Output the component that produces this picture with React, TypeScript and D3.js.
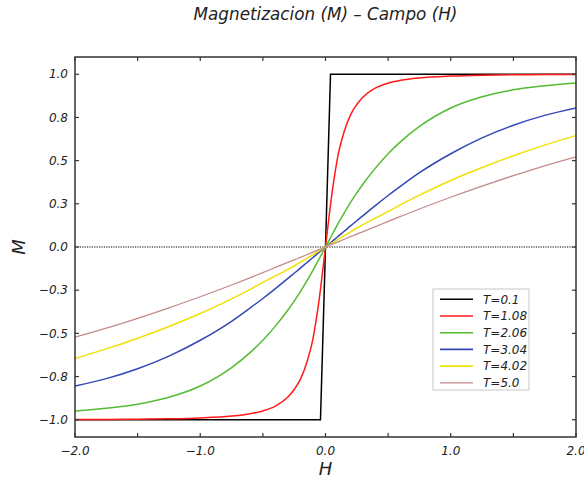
import React from "react";
import * as d3 from "d3";

const W = 584;
const H = 479;

const titleText = "Magnetizacion (M) – Campo (H)";
const xLabelText = "H";
const yLabelText = "M";

const fieldGrid = [
  -2.0, -1.75, -1.5, -1.25, -1.0, -0.75, -0.6, -0.5, -0.4, -0.3, -0.25, -0.2, -0.15, -0.1, -0.05,
  0, 0.05, 0.1, 0.15, 0.2, 0.25, 0.3, 0.4, 0.5, 0.6, 0.75, 1.0, 1.25, 1.5, 1.75, 2.0,
];

const blackField = [-2.0, -0.04, 0.04, 2.0];
const blackM = [-1.0, -1.0, 1.0, 1.0];

const redM = [
  -0.999, -0.998, -0.997, -0.995, -0.99, -0.979, -0.965, -0.949, -0.921, -0.868, -0.825, -0.765, -0.67, -0.53, -0.3,
  0, 0.3, 0.53, 0.67, 0.765, 0.825, 0.868, 0.921, 0.949, 0.965, 0.979, 0.99, 0.995, 0.997, 0.998, 0.999,
];
const greenM = [
  -0.95, -0.933, -0.91, -0.87, -0.805, -0.698, -0.61, -0.54, -0.458, -0.365, -0.313, -0.258, -0.198, -0.135, -0.068,
  0, 0.068, 0.135, 0.198, 0.258, 0.313, 0.365, 0.458, 0.54, 0.61, 0.698, 0.805, 0.87, 0.91, 0.933, 0.95,
];
const blueM = [
  -0.805, -0.762, -0.705, -0.632, -0.54, -0.43, -0.352, -0.298, -0.241, -0.182, -0.152, -0.122, -0.091, -0.061, -0.03,
  0, 0.03, 0.061, 0.091, 0.122, 0.152, 0.182, 0.241, 0.298, 0.352, 0.43, 0.54, 0.632, 0.705, 0.762, 0.805,
];
const yellowM = [
  -0.645, -0.59, -0.528, -0.46, -0.385, -0.3, -0.245, -0.205, -0.168, -0.13, -0.11, -0.088, -0.066, -0.044, -0.022,
  0, 0.022, 0.044, 0.066, 0.088, 0.11, 0.13, 0.168, 0.205, 0.245, 0.3, 0.385, 0.46, 0.528, 0.59, 0.645,
];
const pinkM = [
  -0.522, -0.47, -0.413, -0.352, -0.288, -0.22, -0.177, -0.148, -0.118, -0.089, -0.075, -0.06, -0.045, -0.03, -0.015,
  0, 0.015, 0.03, 0.045, 0.06, 0.075, 0.089, 0.118, 0.148, 0.177, 0.22, 0.288, 0.352, 0.413, 0.47, 0.522,
];

const seriesLabels = ["T=0.1", "T=1.08", "T=2.06", "T=3.04", "T=4.02", "T=5.0"];
const seriesColors = ["#000000", "#ff1a1a", "#55bb33", "#3347b5", "#f2e000", "#c48a8a"];

const xTickValues = [-2, -1.5, -1, -0.5, 0, 0.5, 1, 1.5, 2];
const xTickLabelValues = [-2, -1, 0, 1, 2];
const xTickLabels = ["−2.0", "−1.0", "0.0", "1.0", "2.0"];
const yTickValues = [-1, -0.75, -0.5, -0.25, 0, 0.25, 0.5, 0.75, 1];
const yTickLabels = ["−1.0", "−0.8", "−0.5", "−0.3", "0.0", "0.3", "0.5", "0.8", "1.0"];

const FONT = "'DejaVu Sans', 'Liberation Sans', sans-serif";

export default function App() {
  const left = 75, right = 576, top = 57, bottom = 437;
  const x = d3.scaleLinear().domain([-2, 2]).range([left, right]);
  const y = d3.scaleLinear().domain([-1.1, 1.1]).range([bottom, top]);

  const line = d3
    .line<[number, number]>()
    .x((d) => x(d[0]))
    .y((d) => y(d[1]))
    .curve(d3.curveMonotoneX);
  const straight = d3
    .line<[number, number]>()
    .x((d) => x(d[0]))
    .y((d) => y(d[1]));

  const zip = (xs: number[], ys: number[]) => xs.map((v, i) => [v, ys[i]] as [number, number]);

  const curves = [
    { d: straight(zip(blackField, blackM)), color: seriesColors[0], w: 1.5 },
    { d: line(zip(fieldGrid, redM)), color: seriesColors[1], w: 1.5 },
    { d: line(zip(fieldGrid, greenM)), color: seriesColors[2], w: 1.5 },
    { d: line(zip(fieldGrid, blueM)), color: seriesColors[3], w: 1.5 },
    { d: line(zip(fieldGrid, yellowM)), color: seriesColors[4], w: 1.5 },
    { d: line(zip(fieldGrid, pinkM)), color: seriesColors[5], w: 1.3 },
  ];

  const tickLen = 4;
  const legX = 433, legY = 289, legW = 96, legH = 101;
  const rowH = 16.7;

  return (
    <svg
      width={W}
      height={H}
      style={{ position: "absolute", left: 0, top: 0, background: "#fff" }}
      fontFamily={FONT}
    >
      <rect x={0} y={0} width={W} height={H} fill="#fff" />
      <text x={x(0)} y={20} textAnchor="middle" fontSize={16.8} fontStyle="italic" fill="#222">
        {titleText}
      </text>

      <line x1={left} x2={right} y1={y(0)} y2={y(0)} stroke="#000" strokeWidth={1} strokeDasharray="1.2,1.2" />

      <clipPath id="plotclip">
        <rect x={left} y={top} width={right - left} height={bottom - top} />
      </clipPath>
      <g clipPath="url(#plotclip)">
        {curves.map((c, i) => (
          <path key={i} d={c.d || ""} fill="none" stroke={c.color} strokeWidth={c.w} />
        ))}
      </g>

      <rect x={left} y={top} width={right - left} height={bottom - top} fill="none" stroke="#333" strokeWidth={1.5} />

      {xTickValues.map((t, i) => (
        <g key={"xt" + i}>
          <line x1={x(t)} x2={x(t)} y1={bottom} y2={bottom - tickLen} stroke="#333" strokeWidth={1.2} />
          <line x1={x(t)} x2={x(t)} y1={top} y2={top + tickLen} stroke="#333" strokeWidth={1.2} />
        </g>
      ))}
      {yTickValues.map((t, i) => (
        <g key={"yt" + i}>
          <line x1={left} x2={left + tickLen} y1={y(t)} y2={y(t)} stroke="#333" strokeWidth={1.2} />
          <line x1={right} x2={right - tickLen} y1={y(t)} y2={y(t)} stroke="#333" strokeWidth={1.2} />
          <text x={68} y={y(t)} dy="0.35em" textAnchor="end" fontSize={12} fontStyle="italic" fill="#222">
            {yTickLabels[i]}
          </text>
        </g>
      ))}
      {xTickLabelValues.map((t, i) => (
        <text key={"xl" + i} x={x(t)} y={455} textAnchor="middle" fontSize={12} fontStyle="italic" fill="#222">
          {xTickLabels[i]}
        </text>
      ))}

      <text x={x(0)} y={475} textAnchor="middle" fontSize={18} fontStyle="italic" fill="#222">
        {xLabelText}
      </text>
      <text
        transform={`translate(25, ${y(0)}) rotate(-90)`}
        textAnchor="middle"
        fontSize={18}
        fontStyle="italic"
        fill="#222"
      >
        {yLabelText}
      </text>

      <rect x={legX} y={legY} width={legW} height={legH} fill="#fff" stroke="#c8c8c8" strokeWidth={1} />
      {seriesLabels.map((lab, i) => {
        const ry = legY + 10.3 + i * rowH;
        return (
          <g key={"lg" + i}>
            <line x1={legX + 7} x2={legX + 40} y1={ry} y2={ry} stroke={seriesColors[i]} strokeWidth={i === 5 ? 1.3 : 1.6} />
            <text x={legX + 50} y={ry} dy="0.36em" fontSize={12} fontStyle="italic" fill="#222">
              {lab}
            </text>
          </g>
        );
      })}
    </svg>
  );
}
